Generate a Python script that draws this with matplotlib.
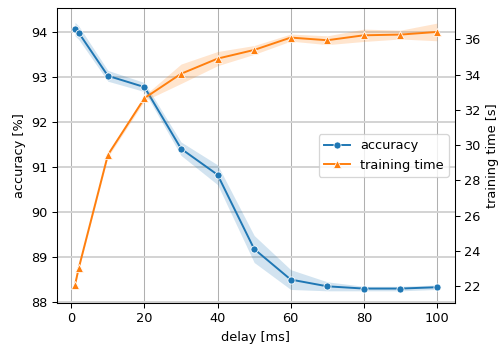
import numpy as np
import matplotlib
matplotlib.use("Agg")
import matplotlib.pyplot as plt

delay = [1, 2, 10, 20, 30, 40, 50, 60, 70, 80, 90, 100]
accuracy = [94.06, 93.98, 93.02, 92.77, 91.40, 90.82, 89.17, 88.49, 88.34, 88.29, 88.29, 88.32]
acc_err = [0.15, 0.15, 0.12, 0.10, 0.15, 0.22, 0.30, 0.22, 0.10, 0.05, 0.05, 0.05]
train_time = [22.08, 23.02, 29.45, 32.66, 34.04, 34.90, 35.39, 36.09, 35.94, 36.22, 36.26, 36.41]
time_err = [0.10, 0.10, 0.12, 0.15, 0.55, 0.40, 0.25, 0.20, 0.25, 0.35, 0.25, 0.50]

delay = np.array(delay)
accuracy = np.array(accuracy)
acc_err = np.array(acc_err)
train_time = np.array(train_time)
time_err = np.array(time_err)

dpi = 93
fig, ax1 = plt.subplots(figsize=(499 / dpi, 344 / dpi), dpi=dpi)
ax2 = ax1.twinx()

ax1.fill_between(delay, accuracy - acc_err, accuracy + acc_err, color="tab:blue", alpha=0.2, lw=0)
l1, = ax1.plot(delay, accuracy, color="tab:blue", marker="o", ms=5.5, mec="white", mew=0.6, lw=1.5, label="accuracy")
ax2.fill_between(delay, train_time - time_err, train_time + time_err, color="tab:orange", alpha=0.2, lw=0)
l2, = ax2.plot(delay, train_time, color="tab:orange", marker="^", ms=5.5, mec="white", mew=0.6, lw=1.5, label="training time")

ax1.set_xlim(-3.95, 104.95)
ax1.set_ylim(87.96, 94.53)
ax2.set_ylim(21.04, 37.77)
ax1.set_xticks([0, 20, 40, 60, 80, 100])
ax1.set_yticks([88, 89, 90, 91, 92, 93, 94])
ax2.set_yticks([22, 24, 26, 28, 30, 32, 34, 36])

ax1.xaxis.grid(True, color="#b0b0b0", lw=0.8)
ax1.yaxis.grid(True, color="#d3d3d3", lw=1.5)
ax1.set_axisbelow(True)

ax1.set_xlabel("delay [ms]")
ax1.set_ylabel("accuracy [%]")
ax2.set_ylabel("training time [s]")

ax2.legend([l1, l2], ["accuracy", "training time"], loc="center right")

fig.subplots_adjust(left=0.114, right=0.912, top=0.977, bottom=0.118)
fig.savefig("out.png", dpi=dpi)
